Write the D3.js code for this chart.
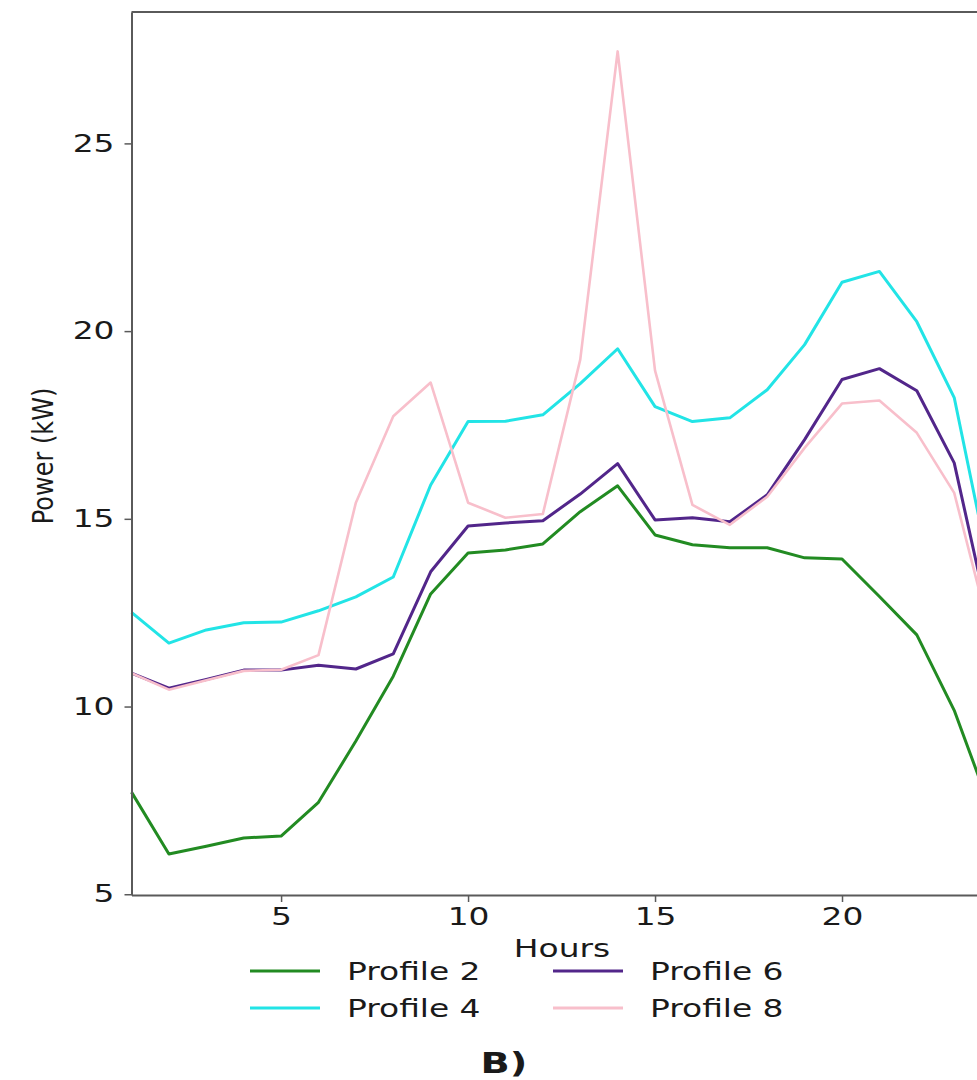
<!DOCTYPE html>
<html>
<head>
<meta charset="utf-8">
<script src="https://cdn.jsdelivr.net/npm/d3@7"></script>
<style>
  html, body { margin: 0; padding: 0; background: #fff; overflow: hidden; }
  svg { display: block; }
  text { font-family: "DejaVu Sans", sans-serif; fill: #1a1a1a; }
</style>
</head>
<body>
<svg id="chart" width="977" height="1080"></svg>
<script>
// ---- data ----
const hours = [1,2,3,4,5,6,7,8,9,10,11,12,13,14,15,16,17,18,19,20,21,22,23,24];
const profile2 = [7.72, 6.07, 6.28, 6.5, 6.55, 7.45, 9.08, 10.81, 13.0, 14.09, 14.17, 14.33, 15.19, 15.88, 14.57, 14.31, 14.23, 14.23, 13.96, 13.93, 12.93, 11.91, 9.9, 7.2];
const profile4 = [12.51, 11.69, 12.04, 12.23, 12.25, 12.55, 12.92, 13.45, 15.9, 17.59, 17.6, 17.77, 18.6, 19.53, 17.99, 17.59, 17.69, 18.44, 19.64, 21.3, 21.59, 20.25, 18.23, 13.4];
const profile6 = [10.89, 10.49, 10.72, 10.97, 10.97, 11.1, 11.0, 11.4, 13.59, 14.81, 14.89, 14.95, 15.66, 16.47, 14.97, 15.03, 14.92, 15.64, 17.11, 18.71, 19.0, 18.41, 16.49, 12.0];
const profile8 = [10.89, 10.45, 10.7, 10.95, 10.98, 11.37, 15.43, 17.73, 18.63, 15.43, 15.03, 15.13, 19.24, 27.45, 18.95, 15.37, 14.84, 15.59, 16.89, 18.07, 18.15, 17.29, 15.69, 11.8];
const seriesNames = ["Profile 2", "Profile 4", "Profile 6", "Profile 8"];
const seriesValues = [profile2, profile4, profile6, profile8];
const seriesColors = ["#228b22", "#22e4e6", "#52268a", "#f8bfcb"];
const xTicks = [5, 10, 15, 20];
const yTicks = [5, 10, 15, 20, 25];

// ---- layout ----
const SX = 1.37;          // horizontal stretch of the reference figure
const FS = 24;
const plotL = 131.5, plotR = 991.6, plotT = 12, plotB = 895;

const svg = d3.select("#chart");
const x = d3.scaleLinear().domain([1, 24]).range([plotL, plotR]);
const y = d3.scaleLinear().domain([4.98, 28.5]).range([plotB, plotT]);

const axisColor = "#5a5a5a";

// lines
const line = d3.line().x((d, i) => x(hours[i])).y(d => y(d));
seriesValues.forEach((vals, k) => {
  svg.append("path")
    .datum(vals)
    .attr("d", line)
    .attr("fill", "none")
    .attr("stroke", seriesColors[k])
    .attr("stroke-width", k === 3 ? 2.6 : 3.0)
    .attr("stroke-linejoin", "round");
});

// spines
svg.append("line").attr("x1", plotL).attr("x2", plotR).attr("y1", plotT).attr("y2", plotT)
  .attr("stroke", axisColor).attr("stroke-width", 2);
svg.append("line").attr("x1", plotR).attr("x2", plotR).attr("y1", plotT).attr("y2", plotB)
  .attr("stroke", axisColor).attr("stroke-width", 2);

// x axis
const gx = svg.append("g").attr("transform", `translate(0,${plotB})`)
  .call(d3.axisBottom(x).tickValues(xTicks).tickFormat(d3.format("d")).tickSize(7).tickSizeOuter(0).tickPadding(6));
gx.select(".domain").attr("stroke", axisColor).attr("stroke-width", 2);
gx.selectAll(".tick line").attr("stroke", axisColor).attr("stroke-width", 1.5);
gx.selectAll(".tick text").attr("font-size", FS).attr("font-family", "DejaVu Sans").attr("fill", "#1a1a1a")
  .attr("transform", `scale(${SX},1)`);

// y axis
const gy = svg.append("g").attr("transform", `translate(${plotL},0)`)
  .call(d3.axisLeft(y).tickValues(yTicks).tickFormat(d3.format("d")).tickSize(7).tickSizeOuter(0).tickPadding(13));
gy.select(".domain").attr("stroke", axisColor).attr("stroke-width", 2);
gy.selectAll(".tick line").attr("stroke", axisColor).attr("stroke-width", 1.5);
gy.selectAll(".tick text").attr("font-size", FS).attr("font-family", "DejaVu Sans").attr("fill", "#1a1a1a")
  .attr("x", -17 / SX).attr("transform", `scale(${SX},1)`);

// axis labels
svg.append("text").attr("transform", `translate(562,957) scale(${SX},1)`)
  .attr("text-anchor", "middle").attr("font-size", FS).text("Hours");
svg.append("text").attr("transform", `translate(53,456) scale(1.15,1) rotate(-90)`)
  .attr("text-anchor", "middle").attr("font-size", 24).text("Power (kW)");

// legend
const legCols = [250, 553];
const legRows = [971, 1008];
seriesNames.forEach((name, k) => {
  const col = Math.floor(k / 2), row = k % 2;
  const lx = legCols[col], ly = legRows[row];
  svg.append("line").attr("x1", lx).attr("x2", lx + 70).attr("y1", ly).attr("y2", ly)
    .attr("stroke", seriesColors[k]).attr("stroke-width", 3);
  svg.append("text").attr("transform", `translate(${lx + 97},${ly + 9}) scale(${SX},1)`)
    .attr("font-size", FS).text(name);
});

// panel label
svg.append("text").attr("transform", `translate(504,1073) scale(${SX},1)`)
  .attr("text-anchor", "middle").attr("font-size", 28).attr("font-weight", "bold").text("B)");
</script>
</body>
</html>
